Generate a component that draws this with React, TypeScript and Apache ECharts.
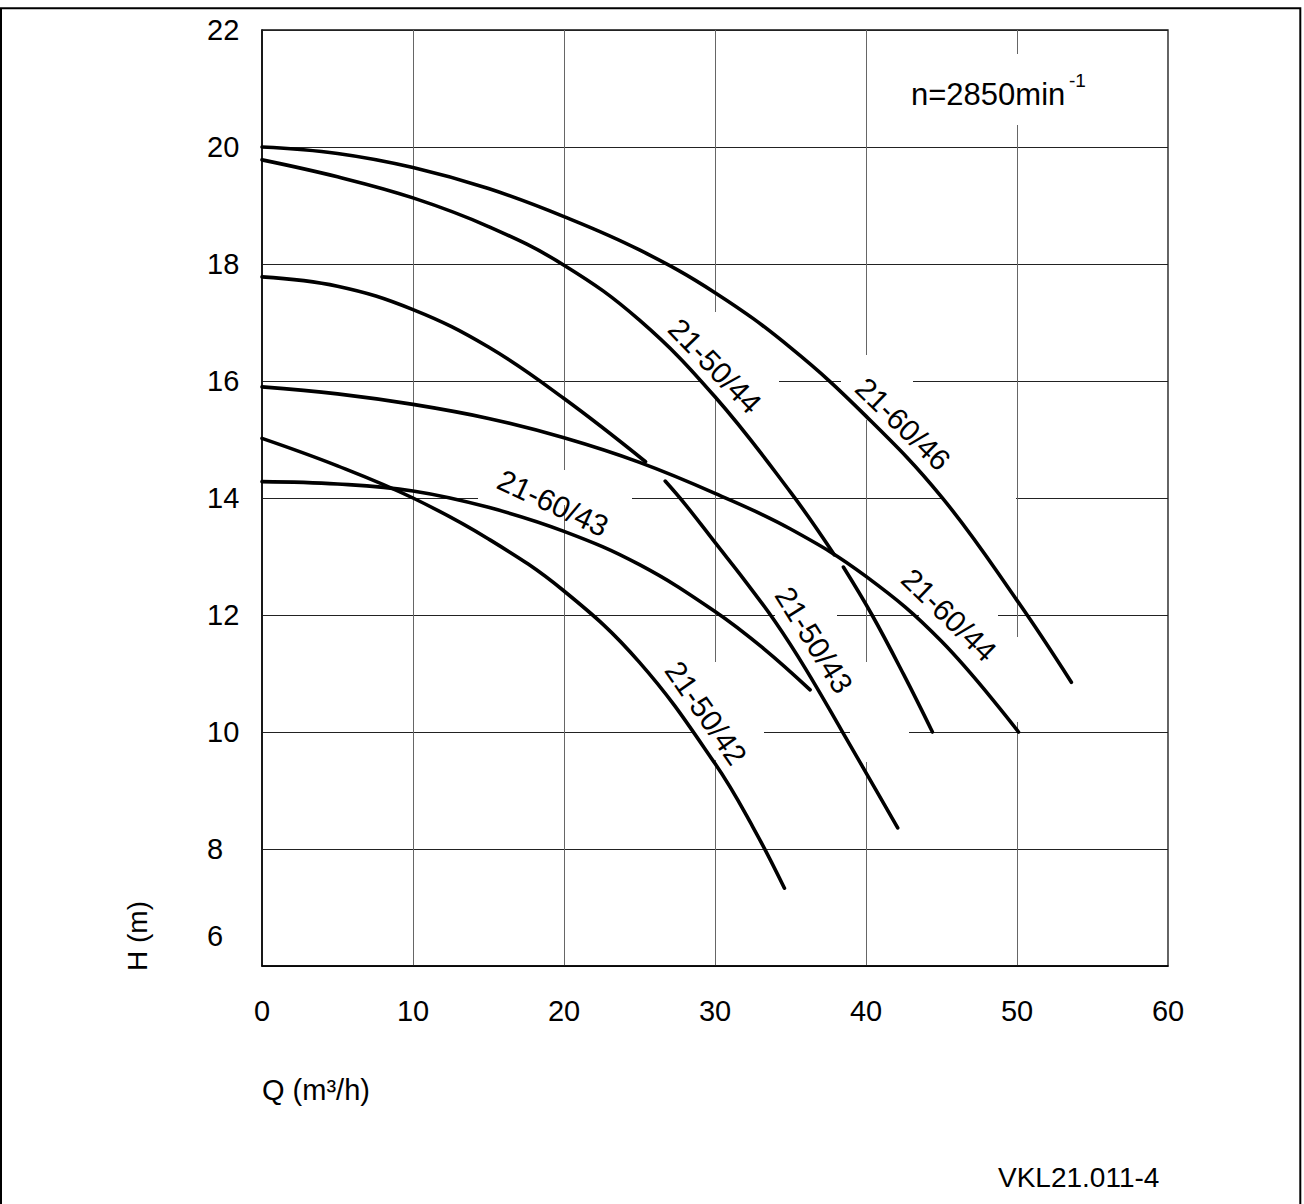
import React, { useEffect, useRef } from "react";
import * as echarts from "echarts";

// ---- axis ranges / ticks ----
const qMin = 0;
const qMax = 60;
const qStep = 10;
const hMin = 6;
const hMax = 22;
const hStep = 2;

// ---- pump curves (Q m3/h, H m), split where the drawing breaks them ----
const curve6046 = [[0, 20.0], [5, 19.89], [10, 19.65], [15, 19.29], [20, 18.81], [25, 18.24], [30, 17.51], [35, 16.57], [40, 15.4], [45, 14.02], [50, 12.25], [53.6, 10.85]];
const curve5044a = [[0, 19.78], [5, 19.49], [10, 19.13], [15, 18.64], [20, 17.98], [25, 17.04], [30, 15.73], [35, 14.1], [37.9, 13.03]];
const curve5044b = [[38.5, 12.82], [40.4, 12.0], [42.5, 10.98], [44.4, 10.0]];
const curve5043a = [[0, 17.78], [5, 17.62], [10, 17.22], [15, 16.58], [20, 15.7], [25.4, 14.62]];
const curve5043b = [[26.7, 14.29], [28, 13.9], [30, 13.24], [32, 12.58], [34, 11.88], [36, 11.08], [38.4, 10.02], [40.1, 9.26], [42.1, 8.36]];
const curve6044 = [[0, 15.9], [5, 15.78], [10, 15.6], [15, 15.36], [20, 15.03], [25, 14.61], [30, 14.08], [35, 13.47], [40, 12.66], [45, 11.55], [50.1, 10.0]];
const curve6043 = [[0, 14.28], [5, 14.24], [10, 14.12], [15, 13.84], [20, 13.43], [25, 12.86], [30, 12.06], [33.2, 11.43], [36.3, 10.72]];
const curve5042 = [[0, 15.02], [5, 14.55], [10, 14.0], [15, 13.3], [20, 12.41], [25, 11.19], [30, 9.46], [32.5, 8.38], [34.6, 7.33]];

// ---- texts ----
const curveNames = ["21-60/46", "21-50/44", "21-60/44", "21-50/43", "21-50/42", "21-60/43"];
const speedText = "n=2850min";
const speedSup = "-1";
const xTitle = "Q (m³/h)";
const yTitle = "H (m)";
const docCode = "VKL21.011-4";

const FONT = "'Liberation Sans', Arial, Helvetica, sans-serif";

export default function App() {
  const ref = useRef<HTMLDivElement>(null);

  useEffect(() => {
    document.body.style.margin = "0";
    const chart = echarts.init(ref.current!, null, { renderer: "svg" });

    const lines = [curve6046, curve5044a, curve5044b, curve5043a, curve5043b, curve6044, curve6043, curve5042];
    const series = lines.map((d) => ({
      type: "line",
      data: d,
      smooth: 0.4,
      symbol: "none",
      silent: true,
      z: 5,
      lineStyle: { color: "#000", width: 3.6, cap: "round" },
    }));

    const mask = (x1: number, y1: number, x2: number, y2: number) => ({
      type: "rect",
      silent: true,
      z: 1,
      shape: { x: x1, y: y1, width: x2 - x1, height: y2 - y1 },
      style: { fill: "#fff" },
    });

    const rotText = (text: string, x: number, y: number, deg: number) => ({
      type: "text",
      x,
      y,
      rotation: (-deg * Math.PI) / 180,
      z: 20,
      silent: true,
      style: { text, fontSize: 30, fontFamily: FONT, fill: "#000", align: "center", verticalAlign: "middle" },
    });

    const plainText = (text: string, x: number, y: number, size: number, align = "left") => ({
      type: "text",
      x,
      y,
      z: 20,
      silent: true,
      style: { text, fontSize: size, fontFamily: FONT, fill: "#000", align, verticalAlign: "middle" },
    });

    const option: any = {
      animation: false,
      backgroundColor: "#fff",
      grid: {
        left: 262,
        top: 30,
        width: 906,
        height: 936,
        show: true,
        borderColor: "#111",
        borderWidth: 1.3,
        backgroundColor: "transparent",
      },
      xAxis: {
        type: "value",
        min: qMin,
        max: qMax,
        interval: qStep,
        axisLine: { show: true, onZero: false, lineStyle: { color: "#000", width: 1.5 } },
        axisTick: { show: false },
        splitLine: { show: true, lineStyle: { color: "#666", width: 1 } },
        axisLabel: {
          color: "#000",
          fontSize: 29,
          fontFamily: FONT,
          margin: 30,
          showMinLabel: true,
          showMaxLabel: true,
        },
      },
      yAxis: {
        type: "value",
        min: hMin,
        max: hMax,
        interval: hStep,
        axisLine: { show: true, onZero: false, lineStyle: { color: "#000", width: 1.5 } },
        axisTick: { show: false },
        splitLine: { show: true, lineStyle: { color: "#222", width: 1 } },
        axisLabel: {
          color: "#000",
          fontSize: 29,
          fontFamily: FONT,
          align: "left",
          margin: 55,
          showMinLabel: true,
          showMaxLabel: true,
          formatter: (v: number) => (v === hMin ? "{lift|" + v + "}" : String(v)),
          rich: {
            lift: { fontSize: 29, fontFamily: FONT, color: "#000", padding: [0, 0, 60, 0] },
          },
        },
      },
      series,
      graphic: [
        // outer frame
        {
          type: "rect",
          silent: true,
          z: 0,
          shape: { x: 1, y: 8.3, width: 1299.3, height: 1210 },
          style: { fill: "none", stroke: "#000", lineWidth: 2 },
        },
        // white boxes behind labels (gaps in the grid)
        mask(905, 54, 1090, 125),
        mask(841, 355, 913, 420),
        mask(702, 312, 779, 395),
        mask(478, 470, 632, 505),
        mask(775, 600, 837, 630),
        mask(692, 662, 764, 760),
        mask(850, 662, 909, 762),
        mask(919, 600, 998, 630),
        mask(1005, 637, 1030, 722),
        mask(943, 485, 1016, 510),
        // curve names
        rotText(curveNames[0], 903, 424, 44),
        rotText(curveNames[1], 715, 366, 46),
        rotText(curveNames[2], 949, 615, 44),
        rotText(curveNames[3], 814, 640, 58),
        rotText(curveNames[4], 706, 713, 55),
        rotText(curveNames[5], 553, 503, 25),
        // speed note
        plainText(speedText, 911, 94, 31),
        plainText(speedSup, 1069, 80, 19),
        // axis titles
        plainText(xTitle, 262, 1090, 29),
        {
          type: "text",
          x: 137,
          y: 936,
          rotation: Math.PI / 2,
          z: 20,
          silent: true,
          style: { text: yTitle, fontSize: 28, fontFamily: FONT, fill: "#000", align: "center", verticalAlign: "middle" },
        },
        // drawing code
        plainText(docCode, 998, 1177, 28),
      ],
    };

    chart.setOption(option);
    return () => chart.dispose();
  }, []);

  return <div ref={ref} style={{ width: 1304, height: 1204 }} />;
}
